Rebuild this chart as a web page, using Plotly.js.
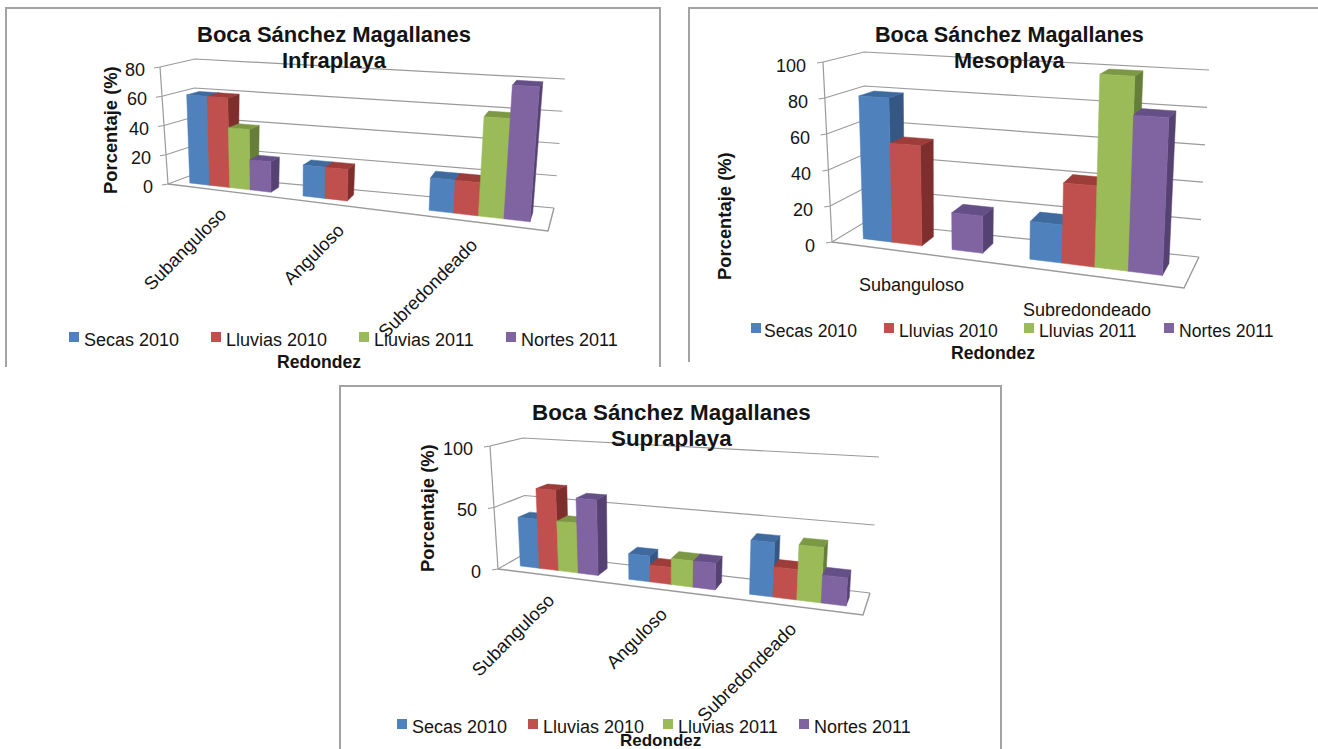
<!DOCTYPE html>
<html>
<head>
<meta charset="utf-8">
<script src="https://cdn.plot.ly/plotly-3.0.1.min.js"></script>
<style>html,body{margin:0;padding:0;background:#fff}#g{width:1318px;height:749px}</style>
</head>
<body>
<div id="g"></div>
<script>
// ---------- data ----------
const seriesNames = ["Secas 2010", "Lluvias 2010", "Lluvias 2011", "Nortes 2011"];
const infraCategories = ["Subanguloso", "Anguloso", "Subredondeado"];
const infraSecas2010   = [60, 20, 20];
const infraLluvias2010 = [60, 20, 20];
const infraLluvias2011 = [40, 0, 60];
const infraNortes2011  = [20, 0, 80];
const infraTicks = [0, 20, 40, 60, 80];

const mesoCategories = ["Subanguloso", "Subredondeado"];
const mesoSecas2010   = [80, 20];
const mesoLluvias2010 = [55, 42];
const mesoLluvias2011 = [0, 100];
const mesoNortes2011  = [20, 80];
const mesoTicks = [0, 20, 40, 60, 80, 100];

const supraCategories = ["Subanguloso", "Anguloso", "Subredondeado"];
const supraSecas2010   = [40, 20, 40];
const supraLluvias2010 = [65, 13, 22];
const supraLluvias2011 = [40, 20, 40];
const supraNortes2011  = [60, 20, 20];
const supraTicks = [0, 50, 100];

// ---------- style ----------
const FONT = "Liberation Sans, Arial, sans-serif";
const INK = "#141414";
const GRID = "#9a9a9a";
const FRAME = "#a3a3a3";
const front = ["#4F81BD", "#C0504D", "#9BBB59", "#8064A2"];
const topC  = ["#3F6A9E", "#9C3D3A", "#7C9845", "#654F87"];
const sideC = ["#345784", "#7E2F2D", "#657E39", "#564272"];

// ---------- panel layout (page pixels) ----------
const panels = [
 { title: "Infraplaya", cats: infraCategories, ticks: infraTicks, vmax: 80,
   vals: [infraSecas2010, infraLluvias2010, infraLluvias2011, infraNortes2011],
   rect: [0, 670, 0, 370], a: 0.85,
   FLb:[168,184], FRb:[548,231], BLb:[192,175], BRb:[554,208],
   FLt:[160,67],  FRt:[558,92],  BLt:[195,59],  BRt:[565,79],
   frame: [[6,367],[6,8],[660,8],[660,367]],
   tFs: 22, tX: 334, tY: [34,60], tickDx: -15.5, tickDy: 3, catFs: 18.4, tickFs: 18,
   catPos: [[184,249,-45],[313,254,-45],[427,288,-45]],
   yTitle: [110,130], xTitle: [319,362], xtFs: 17.6, legFs: 18, legY: 340, sqY: 337,
   legX: [74,216,364,511] },
 { title: "Mesoplaya", cats: mesoCategories, ticks: mesoTicks, vmax: 100,
   vals: [mesoSecas2010, mesoLluvias2010, mesoLluvias2011, mesoNortes2011],
   rect: [680, 1318, 0, 370], a: 0.9,
   FLb:[832,242], FRb:[1184,288], BLb:[865,222], BRb:[1199,257],
   FLt:[823,62],  FRt:[1193,84],  BLt:[864,52],  BRt:[1209,70],
   frame: [[689,362],[689,8],[1318,8]],
   tFs: 21.6, tX: 1009, tY: [34,60], tickDx: -17, tickDy: 4, catFs: 18, tickFs: 18,
   catPos: [[911,285,0],[1087,310,0]],
   yTitle: [724,216], xTitle: [993,353], xtFs: 17.6, legFs: 17.6, legY: 331, sqY: 328,
   legX: [756,889,1029,1169] },
 { title: "Supraplaya", cats: supraCategories, ticks: supraTicks, vmax: 100,
   vals: [supraSecas2010, supraLluvias2010, supraLluvias2011, supraNortes2011],
   rect: [335, 1010, 378, 749], a: 0.85,
   FLb:[498,569], FRb:[863,615], BLb:[526,553], BRb:[870,593],
   FLt:[490,446], FRt:[871,471], BLt:[523,438], BRt:[879,457],
   frame: [[340,749],[340,386],[1001,386],[1001,749]],
   tFs: 22.4, tX: 671, tY: [413,439], tickDx: -17, tickDy: 3, catFs: 18.4, tickFs: 18,
   catPos: [[512,635,-45],[636,638,-45],[746,672,-45]],
   yTitle: [428,508], xTitle: [660,740], xtFs: 17, legFs: 18, legY: 727, sqY: 724,
   legX: [402,533,668,804] }
];

const W = 1318, H = 749, DEPTH0 = 0.3, DEPTH1 = 0.7;

function lerp(p, q, s) { return [p[0] + (q[0]-p[0])*s, p[1] + (q[1]-p[1])*s]; }
function project(g, u, w, h) {
  const t = g.a*u / (1 - (1-g.a)*u);
  const fb = lerp(g.FLb, g.FRb, t), bb = lerp(g.BLb, g.BRb, t);
  const ft = lerp(g.FLt, g.FRt, t), bt = lerp(g.BLt, g.BRt, t);
  return lerp(lerp(fb, bb, w), lerp(ft, bt, w), h);
}

const traces = [], annotations = [], layout = {
  width: W, height: H, margin: {l:0,r:0,t:0,b:0}, showlegend: false,
  paper_bgcolor: "#fff", plot_bgcolor: "rgba(0,0,0,0)", hovermode: false,
  font: {family: FONT, color: INK}
};

panels.forEach((g, pi) => {
  const sfx = pi === 0 ? "" : String(pi+1);
  const xa = "x"+sfx, ya = "y"+sfx;
  layout["xaxis"+sfx] = {domain:[g.rect[0]/W, g.rect[1]/W], range:[g.rect[0], g.rect[1]], visible:false, fixedrange:true, anchor:ya};
  layout["yaxis"+sfx] = {domain:[1-g.rect[3]/H, 1-g.rect[2]/H], range:[g.rect[3], g.rect[2]], visible:false, fixedrange:true, anchor:xa};
  const line = (pts, color, width) => traces.push({type:"scatter", mode:"lines", xaxis:xa, yaxis:ya,
    x: pts.map(p=>p[0]), y: pts.map(p=>p[1]), line:{color, width}, hoverinfo:"skip"});
  const face = (pts, color, name) => traces.push({type:"scatter", mode:"lines", xaxis:xa, yaxis:ya, name,
    x: pts.concat([pts[0]]).map(p=>p[0]), y: pts.concat([pts[0]]).map(p=>p[1]),
    fill:"toself", fillcolor:color, line:{color, width:0.5}, hoverinfo:"skip"});
  const text = (x, y, txt, size, bold, angle, xanchor) => annotations.push({xref:xa, yref:ya, x, y, text: bold?"<b>"+txt+"</b>":txt,
    showarrow:false, textangle:angle||0, xanchor:xanchor||"center", yanchor:"middle",
    font:{family:FONT,size,color:INK}, borderpad:0, borderwidth:0});

  // frame
  line(g.frame, FRAME, 2);

  // walls and floor
  g.ticks.forEach(v => {
    const h = v/g.vmax;
    const stub = project(g, 0, 0, h);
    const back = project(g, 0, 1, h);
    const bRight = project(g, 1, 1, h);
    line([[stub[0]-6, stub[1]+1], stub, back, bRight], GRID, 1.2);
    text(stub[0]+g.tickDx, stub[1]+g.tickDy, String(v), g.tickFs, false, 0, "right");
  });
  line([project(g,0,0,0), project(g,0,0,1)], GRID, 1.2);
  line([project(g,0,0,0), project(g,1,0,0), project(g,1,1,0)], GRID, 1.4);

  // bars, left to right
  const nc = g.cats.length;
  g.cats.forEach((cat, c) => {
    seriesNames.forEach((s, k) => {
      const v = g.vals[k][c];
      if (!v) return;
      const h = v/g.vmax;
      const u0 = (c + (0.75+k)/5.5)/nc, u1 = (c + (1.75+k)/5.5)/nc;
      face([project(g,u1,DEPTH0,0), project(g,u1,DEPTH1,0), project(g,u1,DEPTH1,h), project(g,u1,DEPTH0,h)], sideC[k], s);
      face([project(g,u0,DEPTH0,h), project(g,u1,DEPTH0,h), project(g,u1,DEPTH1,h), project(g,u0,DEPTH1,h)], topC[k], s);
      face([project(g,u0,DEPTH0,0), project(g,u1,DEPTH0,0), project(g,u1,DEPTH0,h), project(g,u0,DEPTH0,h)], front[k], s);
    });
    const cp = g.catPos[c];
    text(cp[0], cp[1], cat, g.catFs, false, cp[2]);
  });

  // titles
  text(g.tX, g.tY[0], "Boca Sánchez Magallanes", g.tFs, true);
  text(g.tX, g.tY[1], g.title, g.tFs, true);
  text(g.yTitle[0], g.yTitle[1], "Porcentaje (%)", 18.4, true, -90);
  text(g.xTitle[0], g.xTitle[1], "Redondez", g.xtFs, true);

  // legend
  seriesNames.forEach((s, k) => {
    traces.push({type:"scatter", mode:"markers", xaxis:xa, yaxis:ya, x:[g.legX[k]], y:[g.sqY],
      marker:{symbol:"square", size:10, color:front[k]}, name:s, hoverinfo:"skip"});
    text(g.legX[k]+10 - (pi===1&&k===0?2:0), g.legY, s, g.legFs, false, 0, "left");
  });
});

layout.annotations = annotations;
Plotly.newPlot("g", traces, layout, {displayModeBar:false, staticPlot:true});
</script>
</body>
</html>
